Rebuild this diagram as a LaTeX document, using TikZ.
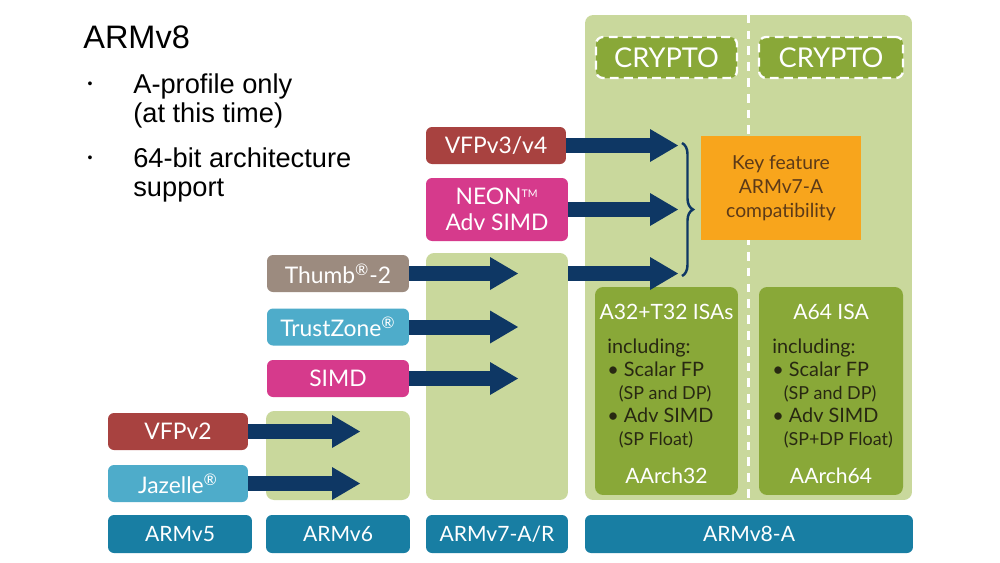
\documentclass[tikz,border=0pt]{standalone}
\usepackage{fontspec}
\setmainfont{Liberation Sans}
\newfontfamily\gillfont{Lato}
\usetikzlibrary{arrows.meta,decorations.pathreplacing}

\definecolor{panelgreen}{RGB}{201,216,156}
\definecolor{isagreen}{RGB}{137,168,56}
\definecolor{armteal}{RGB}{24,126,163}
\definecolor{arrownavy}{RGB}{14,55,100}
\definecolor{vfpred}{RGB}{168,66,64}
\definecolor{neonpink}{RGB}{214,58,140}
\definecolor{thumbtaupe}{RGB}{156,139,127}
\definecolor{tzblue}{RGB}{78,172,202}
\definecolor{keyorange}{RGB}{248,165,28}
\definecolor{keybrown}{RGB}{92,58,24}
\definecolor{isatext}{RGB}{40,40,18}

\newcommand{\subnote}[1]{\hspace*{6.5pt}{\fontsize{10.2}{13}\selectfont #1}}

\begin{document}
\begin{tikzpicture}[x=0.02cm,y=-0.02cm,
    feat/.style={rounded corners=0.12cm,text=white,inner sep=0pt,
      minimum width=2.84cm,minimum height=0.74cm,
      font=\gillfont\fontsize{13}{14.5}\selectfont},
    bar/.style={feat,fill=armteal,minimum height=0.76cm,
      font=\gillfont\fontsize{12}{14}\selectfont},
    panel/.style={fill=panelgreen,rounded corners=0.16cm,inner sep=0pt},
    isabox/.style={fill=isagreen,rounded corners=0.16cm,inner sep=0pt,
      minimum height=4.16cm},
    isahead/.style={anchor=base,inner sep=0pt,text=white,
      font=\gillfont\fontsize{12}{14}\selectfont},
    isabody/.style={anchor=base west,inner sep=0pt,align=left,text=isatext,
      font=\gillfont\fontsize{11.3}{13}\selectfont},
    crypto/.style={fill=isagreen,draw=white,line width=1.3pt,
      dash pattern=on 5pt off 3pt,rounded corners=0.14cm,text=white,
      minimum height=0.82cm,font=\gillfont\fontsize{15.5}{17}\selectfont},
    fwd/.style={draw=arrownavy,line width=0.3cm,
      -{Triangle[length=0.56cm,width=0.66cm,line width=0pt]}},
    slidetext/.style={anchor=base west,inner sep=0pt,align=left,
      font=\fontsize{15.5}{16.5}\selectfont},
    dotmark/.style={anchor=base,inner sep=0pt,font=\fontsize{8}{10}\selectfont}]
  \useasboundingbox (0,0) rectangle (1000,562);
  \fill[white] (0,0) rectangle (1000,562);

  % Slide title and bullets
  \node[anchor=base west,inner sep=0pt,font=\fontsize{18.5}{22}\selectfont] (title) at (83,48) {ARMv8};
  \node[dotmark] (dot1) at (90,88) {•};
  \node[slidetext] (item1) at (133,122) {A-profile only\\(at this time)};
  \node[dotmark] (dot2) at (90,162) {•};
  \node[slidetext] (item2) at (133,196) {64-bit architecture\\support};

  % Background panels per generation
  \node[panel,minimum width=2.88cm,minimum height=1.78cm] (v6panel) at (338,455.5) {};
  \node[panel,minimum width=2.84cm,minimum height=4.94cm] (v7panel) at (497,376.5) {};
  \node[panel,minimum width=6.54cm,minimum height=9.7cm] (v8panel) at (748.5,257.5) {};
  \draw[white,line width=1.3pt,dash pattern=on 5pt off 4pt] (v8panel.north) -- (v8panel.south);

  % ARMv8 contents
  \node[crypto,minimum width=2.82cm] (cryptoA) at (666.5,57.5) {CRYPTO};
  \node[crypto,minimum width=2.88cm] (cryptoB) at (831,57.5) {CRYPTO};
  \node[fill=keyorange,text=keybrown,minimum width=3.2cm,minimum height=2.08cm,
    align=center,font=\gillfont\fontsize{11}{13.6}\selectfont] (keyfeat) at (781,188)
    {Key feature\\ARMv7-A\\compatibility};
  \node[isabox,minimum width=2.86cm] (isaA) at (666.5,391) {};
  \node[isabox,minimum width=2.88cm] (isaB) at (831,391) {};
  \node[isahead] (isaAhead) at (666.5,319) {A32+T32 ISAs};
  \node[isabody] (isaAbody) at (607,445) {including:\\\textbullet\ Scalar FP\\\subnote{(SP and DP)}\\\textbullet\ Adv SIMD\\\subnote{(SP Float)}};
  \node[isahead] (isaAfoot) at (666.5,483) {AArch32};
  \node[isahead] (isaBhead) at (831,319) {A64 ISA};
  \node[isabody] (isaBbody) at (772,445) {including:\\\textbullet\ Scalar FP\\\subnote{(SP and DP)}\\\textbullet\ Adv SIMD\\\subnote{(SP+DP Float)}};
  \node[isahead] (isaBfoot) at (831,483) {AArch64};

  % Feature boxes
  \node[feat,fill=vfpred,minimum width=2.8cm] (vfp3) at (496,145.5) {VFPv3/v4};
  \node[feat,fill=neonpink,minimum height=1.26cm,align=center] (neon) at (497,209.5)
    {NEON\textsuperscript{\fontsize{6}{6}\selectfont TM}\\Adv SIMD};
  \node[feat,fill=thumbtaupe] (thumb) at (338,273.5) {Thumb\textsuperscript{\textregistered}-2};
  \node[feat,fill=tzblue] (trustzone) at (338,327) {TrustZone\textsuperscript{\textregistered}};
  \node[feat,fill=neonpink] (simd) at (338,378.5) {SIMD};
  \node[feat,fill=vfpred,minimum width=2.8cm] (vfp2) at (178,431.5) {VFPv2};
  \node[feat,fill=tzblue,minimum width=2.8cm] (jazelle) at (178,483.5) {Jazelle\textsuperscript{\textregistered}};

  % Arrow ends
  \coordinate (v3end) at (678,145.5);
  \coordinate (neonend) at (678,209.5);
  \coordinate (v8end) at (678,273.5);
  \coordinate (thumbend) at (518,273.5);
  \coordinate (tzend) at (518,327);
  \coordinate (simdend) at (518,378.5);
  \coordinate (vfp2end) at (360,431.5);
  \coordinate (jazend) at (360,483.5);

  \draw[fwd] (vfp3.east) -- (v3end);
  \draw[fwd] (neon.east) -- (neonend);
  \draw[fwd] (v7panel.east |- thumb.east) -- (v8end);
  \draw[fwd] (thumb.east) -- (thumbend);
  \draw[fwd] (trustzone.east) -- (tzend);
  \draw[fwd] (simd.east) -- (simdend);
  \draw[fwd] (vfp2.east) -- (vfp2end);
  \draw[fwd] (jazelle.east) -- (jazend);

  % Brace into key feature
  \draw[arrownavy,line width=1.4pt,decorate,decoration={brace,amplitude=0.22cm}]
    ([xshift=0.08cm,yshift=0.05cm]v3end) -- ([xshift=0.08cm,yshift=-0.05cm]v8end);

  % Architecture versions
  \node[bar,minimum width=2.88cm] (armv5) at (180,534) {ARMv5};
  \node[bar,minimum width=2.88cm] (armv6) at (338,534) {ARMv6};
  \node[bar,minimum width=2.84cm] (armv7) at (497,534) {ARMv7-A/R};
  \node[bar,minimum width=6.56cm] (armv8) at (749,534) {ARMv8-A};
\end{tikzpicture}
\end{document}
